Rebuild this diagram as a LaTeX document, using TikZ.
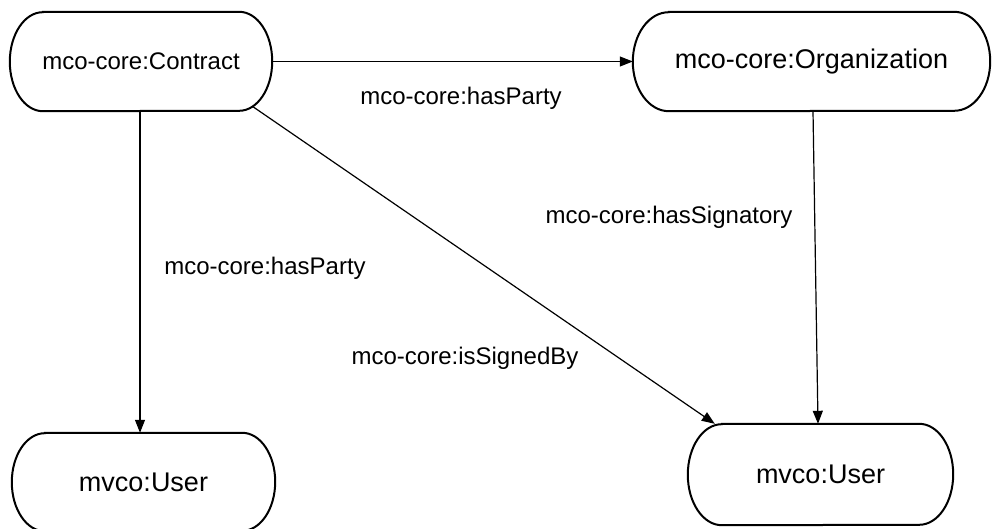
\documentclass[tikz,border=0pt]{standalone}
\usepackage{fontspec}
\setmainfont{Liberation Sans}
\usetikzlibrary{arrows.meta}
\newcommand\stadiumbox[3]{%
  \draw[line width=2pt] ([xshift=#2]#1.north west) -- ([xshift=-#2]#1.north east)
    arc[start angle=90,end angle=-90,x radius=#2,y radius=#3]
    -- ([xshift=#2]#1.south west)
    arc[start angle=270,end angle=90,x radius=#2,y radius=#3] -- cycle;}
\begin{document}
\begin{tikzpicture}[x=1pt,y=-1pt,
  cls/.style={inner sep=0pt,align=center},
  conn/.style={line width=1.2pt,-{Triangle[length=13pt,width=10pt]}},
  lbl/.style={inner sep=0pt,font=\fontsize{24}{28}\selectfont}]
\useasboundingbox (0,0) rectangle (992,529);
\node[cls,minimum width=262pt,minimum height=99pt,font=\fontsize{24}{28}\selectfont] (c) at (141,61.5) {mco-core:Contract};
\node[cls,minimum width=357pt,minimum height=99pt,font=\fontsize{27}{32}\selectfont] (o) at (811.5,61.5) {mco-core:Organization};
\node[cls,minimum width=263pt,minimum height=98pt,font=\fontsize{27}{32}\selectfont] (u1) at (143.5,482) {mvco:User};
\node[cls,minimum width=265pt,minimum height=101pt,font=\fontsize{27}{32}\selectfont] (u2) at (820.5,474.5) {mvco:User};
\stadiumbox{c}{33pt}{49.5pt}
\stadiumbox{o}{36pt}{49.5pt}
\stadiumbox{u1}{33pt}{49pt}
\stadiumbox{u2}{34pt}{50.5pt}
\draw[conn] (c.east) -- (o.west);
\draw[conn] ([xshift=-1pt]c.south) -- ([xshift=-3.5pt]u1.north);
\draw[conn] ([xshift=-20pt,yshift=5pt]c.south east) -- ([xshift=27pt]u2.north west);
\draw[conn] ([xshift=1.5pt]o.south) -- ([xshift=-2.5pt]u2.north);
\node[lbl] (l1) at (461,98) {mco-core:hasParty};
\node[lbl] (l2) at (669,217) {mco-core:hasSignatory};
\node[lbl] (l3) at (265,268) {mco-core:hasParty};
\node[lbl] (l4) at (465,358) {mco-core:isSignedBy};
\end{tikzpicture}
\end{document}
